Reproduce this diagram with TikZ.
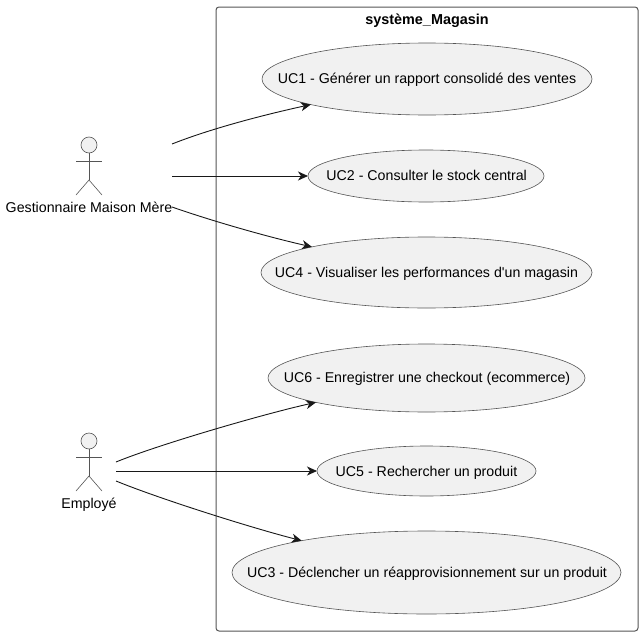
\documentclass[tikz,border=0pt]{standalone}
\usepackage{fontspec}
\setmainfont{Liberation Sans}[Ligatures=TeXOff]
\usetikzlibrary{arrows.meta,shapes.geometric}
\definecolor{ink}{HTML}{181818}
\definecolor{soft}{HTML}{555555}
\definecolor{pale}{HTML}{F1F1F1}
\tikzset{
  x=1pt,y=-1pt,
  txt/.style={font=\fontsize{14.2}{16}\selectfont,text=black,inner sep=0pt,anchor=base},
  uc/.style={ellipse,draw=soft,fill=pale,line width=0.6pt,inner sep=0pt,outer sep=0pt},
  flow/.style={draw=ink,line width=0.9pt,-{Stealth[length=10pt,width=9pt,inset=3pt]}},
  limb/.style={draw=soft,line width=0.6pt},
  frame/.style={draw=soft,line width=1pt,rounded corners=3pt},
}
\newcommand{\stickman}[1]{%
  \draw[limb,fill=pale] (89,#1) circle[radius=8];
  \draw[limb] (89,#1+8) -- (89,#1+35);
  \draw[limb] (76,#1+16) -- (102,#1+16);
  \draw[limb] (76,#1+50) -- (89,#1+35) -- (102,#1+50);
}
\begin{document}
\begin{tikzpicture}
\useasboundingbox (0,0) rectangle (643,637);
\draw[frame] (216,7) rectangle (638,631);
\node[txt,font=\fontsize{14.4}{16}\selectfont\bfseries] (title) at (427,24) {système\_Magasin};
\node[uc,minimum width=330pt,minimum height=72pt] (uc1) at (427,79) {};
\node[txt] (t1) at (427,83) {UC1 - Générer un rapport consolidé des ventes};
\node[uc,minimum width=236pt,minimum height=52pt] (uc2) at (426,176) {};
\node[txt] (t2) at (426.7,180) {UC2 - Consulter le stock central};
\node[uc,minimum width=331pt,minimum height=71pt] (uc4) at (426.5,272.5) {};
\node[txt] (t4) at (426.5,277) {UC4 - Visualiser les performances d'un magasin};
\node[uc,minimum width=317pt,minimum height=68pt] (uc6) at (426.5,378) {};
\node[txt] (t6) at (427,382) {UC6 - Enregistrer une checkout (ecommerce)};
\node[uc,minimum width=219pt,minimum height=50pt] (uc5) at (426.5,471) {};
\node[txt] (t5) at (426.5,476) {UC5 - Rechercher un produit};
\node[uc,minimum width=389pt,minimum height=83pt] (uc3) at (426.5,572.5) {};
\node[txt] (t3) at (427,577) {UC3 - Déclencher un réapprovisionnement sur un produit};
\stickman{145}
\stickman{441}
\node[txt] (gest) at (89,212) {Gestionnaire Maison Mère};
\node[txt] (emp) at (89,508) {Employé};
\coordinate (g1) at (172,144);
\coordinate (g2) at (172,176);
\coordinate (g3) at (172,207);
\coordinate (e1) at (116,462);
\coordinate (e2) at (116,471);
\coordinate (e3) at (116,481);
\draw[flow] (g1) .. controls (215,127) and (271,113.3) .. (uc1);
\draw[flow] (g2) -- (uc2);
\draw[flow] (g3) .. controls (215,222) and (271,237.7) .. (uc4);
\draw[flow] (e1) .. controls (160,444) and (266,413.4) .. (uc6);
\draw[flow] (e2) -- (uc5);
\draw[flow] (e3) .. controls (160,499) and (252,528) .. (uc3);
\end{tikzpicture}
\end{document}
